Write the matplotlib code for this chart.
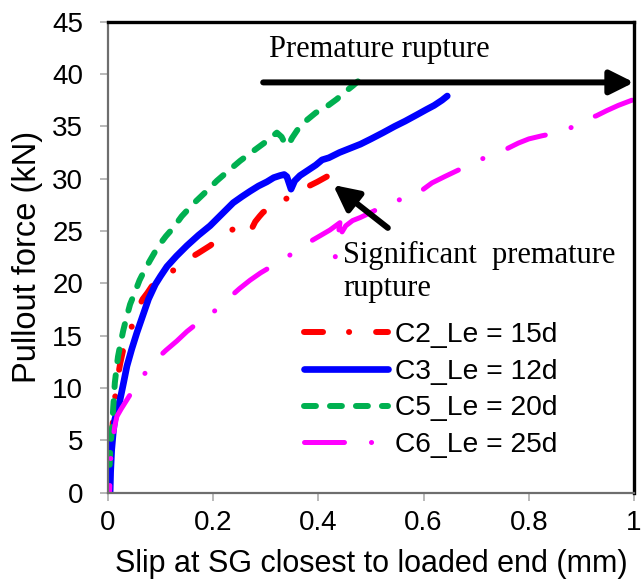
import matplotlib
matplotlib.use("Agg")
import matplotlib.pyplot as plt
import numpy as np

plt.rcParams['font.family'] = ['Liberation Sans', 'DejaVu Sans']
plt.rcParams['lines.scale_dashes'] = False

# ---------------- data ----------------
c2_x = [0.003, 0.005, 0.008, 0.012, 0.017, 0.023, 0.030, 0.036, 0.042, 0.050, 0.057, 0.066,
        0.075, 0.083, 0.095, 0.105, 0.114, 0.130, 0.152, 0.172, 0.194, 0.210, 0.226, 0.245,
        0.262, 0.268, 0.274, 0.280, 0.288, 0.295, 0.315, 0.336, 0.356, 0.378, 0.398, 0.416]
c2_y = [0.0, 3.0, 6.0, 8.5, 10.5, 12.3, 13.9, 14.8, 15.4, 16.6, 17.6, 18.5,
        19.1, 19.7, 20.2, 20.5, 20.8, 21.5, 22.3, 22.9, 23.6, 24.2, 24.8, 25.4,
        26.0, 25.6, 25.3, 25.9, 26.4, 26.8, 27.4, 28.0, 28.6, 29.2, 29.7, 30.2]

c3_x = [0.004, 0.005, 0.007, 0.010, 0.013, 0.018, 0.023, 0.030, 0.036, 0.045, 0.055, 0.066,
        0.077, 0.090, 0.100, 0.112, 0.130, 0.150, 0.172, 0.194, 0.216, 0.238, 0.255, 0.270,
        0.286, 0.302, 0.315, 0.327, 0.335, 0.340, 0.344, 0.348, 0.355, 0.365, 0.380, 0.395,
        0.407, 0.420, 0.440, 0.460, 0.480, 0.500, 0.523, 0.545, 0.565, 0.587, 0.605, 0.620,
        0.635, 0.645]
c3_y = [0.0, 2.0, 4.1, 5.8, 7.0, 8.0, 8.9, 10.6, 12.1, 13.7, 15.3, 16.9,
        18.5, 19.9, 20.7, 21.6, 22.6, 23.6, 24.6, 25.5, 26.6, 27.7, 28.3, 28.8,
        29.3, 29.7, 30.1, 30.3, 30.4, 30.2, 29.6, 29.0, 29.8, 30.3, 30.8, 31.3,
        31.8, 32.0, 32.5, 32.9, 33.3, 33.8, 34.4, 35.0, 35.5, 36.1, 36.6, 37.0,
        37.5, 37.9]

c5_x = [0.003, 0.004, 0.006, 0.008, 0.010, 0.013, 0.016, 0.019, 0.024, 0.029, 0.035, 0.042,
        0.050, 0.060, 0.070, 0.080, 0.095, 0.110, 0.124, 0.140, 0.162, 0.185, 0.207, 0.230,
        0.251, 0.275, 0.302, 0.321, 0.330, 0.337, 0.343, 0.350, 0.362, 0.378, 0.395, 0.416,
        0.435, 0.451, 0.466, 0.475]
c5_y = [2.5, 3.8, 5.2, 6.3, 8.2, 10.5, 11.8, 13.0, 14.3, 15.5, 16.7, 18.0,
        19.0, 20.3, 21.3, 22.2, 23.5, 24.5, 25.3, 26.4, 27.6, 28.7, 29.8, 30.8,
        31.7, 32.6, 33.6, 34.4, 34.0, 33.3, 33.2, 33.9, 34.8, 35.6, 36.3, 36.9,
        37.6, 38.3, 38.9, 39.3]

c6_x = [0.003, 0.004, 0.005, 0.007, 0.010, 0.013, 0.017, 0.025, 0.035, 0.045, 0.055, 0.064,
        0.078, 0.093, 0.110, 0.131, 0.150, 0.170, 0.194, 0.213, 0.232, 0.250, 0.270, 0.290,
        0.310, 0.325, 0.340, 0.360, 0.381, 0.405, 0.422, 0.441, 0.436, 0.432, 0.440, 0.452,
        0.465, 0.480, 0.505, 0.530, 0.555, 0.578, 0.597, 0.616, 0.640, 0.665, 0.694, 0.716,
        0.739, 0.760, 0.780, 0.800, 0.825, 0.845, 0.865, 0.885, 0.907, 0.928, 0.948, 0.970,
        0.996]
c6_y = [0.0, 1.5, 3.1, 4.5, 5.3, 6.4, 7.3, 8.0, 8.8, 9.6, 10.3, 11.0,
        11.9, 12.8, 13.6, 14.5, 15.4, 16.2, 17.0, 17.8, 18.7, 19.5, 20.3, 21.0,
        21.6, 22.0, 22.5, 23.2, 23.9, 24.6, 25.1, 25.8, 24.0, 22.5, 24.5, 25.5,
        26.0, 26.3, 26.9, 27.6, 28.0, 28.2, 28.9, 29.6, 30.2, 30.8, 31.5, 32.0,
        32.4, 32.9, 33.4, 33.8, 34.1, 34.3, 34.5, 35.0, 35.7, 36.0, 36.5, 37.0,
        37.5]

series_labels = ['C2_Le = 15d', 'C3_Le = 12d', 'C5_Le = 20d', 'C6_Le = 25d']
x_ticks = [0, 0.2, 0.4, 0.6, 0.8, 1.0]
x_tick_labels = ['0', '0.2', '0.4', '0.6', '0.8', '1']
y_ticks = [0, 5, 10, 15, 20, 25, 30, 35, 40, 45]

# ---------------- figure ----------------
W, H = 641, 583
fig = plt.figure(figsize=(W / 100, H / 100), dpi=100)
ax = fig.add_axes([108 / W, (H - 492.7) / H, (634 - 108) / W, (492.7 - 21.7) / H])
ax.set_xlim(0, 1)
ax.set_ylim(0, 45)


def end_phase(xs, ys, pattern, end_on):
    """Offset (pt) so that the dash pattern finishes with a dash at the line end."""
    pts = ax.transData.transform(np.column_stack([xs, ys]))
    length_pt = np.sum(np.hypot(*np.diff(pts, axis=0).T)) * 72 / fig.dpi
    period = sum(pattern)
    return (end_on - length_pt) % period


red_pat = (13.7, 18.7, 0.1, 19.4)
green_pat = (8.6, 10.1)
mag_pat = (28.8, 19.4, 0.1, 19.4)

ax.plot(c2_x, c2_y, color='#FF0000', lw=4.3,
        linestyle=(end_phase(c2_x, c2_y, red_pat, 13.7), red_pat),
        dash_capstyle='round', solid_capstyle='round', label=series_labels[0])
ax.plot(c3_x, c3_y, color='#0000FF', lw=4.8, linestyle='-',
        solid_capstyle='round', solid_joinstyle='round', label=series_labels[1])
ax.plot(c5_x, c5_y, color='#00B050', lw=4.3,
        linestyle=(end_phase(c5_x, c5_y, green_pat, 8.6), green_pat),
        dash_capstyle='round', label=series_labels[2])
ax.plot(c6_x, c6_y, color='#FF00FF', lw=3.6,
        linestyle=(end_phase(c6_x, c6_y, mag_pat, 28.8), mag_pat),
        dash_capstyle='round', label=series_labels[3])

ax.set_xticks(x_ticks)
ax.set_xticklabels(x_tick_labels)
ax.set_yticks(y_ticks)

for s in ['top', 'right']:
    ax.spines[s].set_color('black')
    ax.spines[s].set_linewidth(2.4)
for s in ['left', 'bottom']:
    ax.spines[s].set_color('#6E6E6E')
    ax.spines[s].set_linewidth(1.6)

ax.tick_params(axis='both', direction='out', length=5.8, width=1.1, color='#A6A6A6',
               labelsize=20, labelcolor='black')
ax.tick_params(axis='y', pad=12)
ax.tick_params(axis='x', pad=7)

ax.set_xlabel('Slip at SG closest to loaded end (mm)', fontsize=22, labelpad=9)
ax.set_ylabel('Pullout force (kN)', fontsize=23.5, labelpad=7)

# annotations
serif = ['Liberation Serif', 'DejaVu Serif']
ax.text(0.306, 41.6, 'Premature rupture', family=serif, fontsize=22,
        ha='left', va='baseline')
ax.annotate('', xy=(1.0, 39.2), xytext=(0.295, 39.2),
            arrowprops=dict(arrowstyle='-|>', lw=4.3, color='black',
                            mutation_scale=36, shrinkA=0, shrinkB=0),
            annotation_clip=False)
ax.annotate('', xy=(0.428, 29.4), xytext=(0.532, 25.3),
            arrowprops=dict(arrowstyle='-|>', lw=4.3, color='black',
                            mutation_scale=38, shrinkA=0, shrinkB=0))
ax.text(0.447, 21.9, 'Significant  premature', family=serif, fontsize=22,
        ha='left', va='baseline')
ax.text(0.447, 18.8, 'rupture', family=serif, fontsize=22,
        ha='left', va='baseline')

leg = ax.legend(loc='upper left', bbox_to_anchor=(304 / W, 1 - 322 / H),
                bbox_transform=fig.transFigure, frameon=False, fontsize=20.3,
                borderpad=0, borderaxespad=0, handlelength=2.98, handletextpad=0.25,
                labelspacing=0.38)
leg_lines = leg.get_lines()
leg_lines[0].set_linestyle((0, red_pat))
leg_lines[2].set_linestyle((0, green_pat))
leg_lines[3].set_linestyle((0, mag_pat))
for ln in leg_lines:
    ln.set_dash_capstyle('round')
    ln.set_solid_capstyle('round')

fig.savefig('out.png', dpi=100)
